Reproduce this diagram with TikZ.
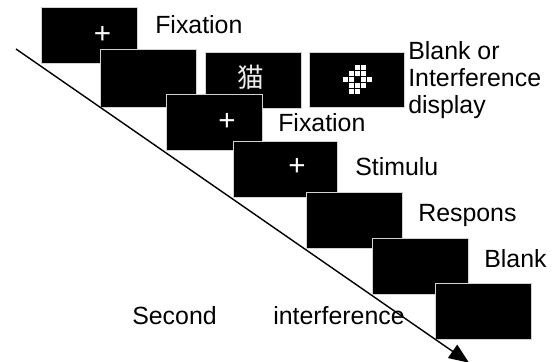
\documentclass[tikz,border=0pt]{standalone}
\usepackage{fontspec}
\setmainfont{Liberation Sans}
\newfontfamily\cjkfont{Noto Sans CJK SC}
\usetikzlibrary{arrows.meta}
\tikzset{
	screen/.style={draw=gray!35, line width=0.4pt, fill=black, minimum width=2.4cm, minimum height=1.4cm, inner sep=0pt},
	cross/.style={text=white, inner sep=0pt, font=\fontsize{21}{22}\selectfont},
	caption/.style={anchor=base west, inner sep=0pt, align=left, font=\fontsize{17.7}{18.85}\selectfont},
	timeline/.style={draw=black, line width=1pt, -{Triangle[length=0.5cm, width=0.4cm]}},
}

\begin{document}
\begin{tikzpicture}[x=0.025cm, y=-0.025cm]
	\useasboundingbox (0,0) rectangle (553,362);
	\clip (0,0) rectangle (553,362);
	% First fixation and blank
	\node [screen] (fixA) at (89,35) {};
	\node [cross] (crossA) at (102.5,34.5) {+};
	\node [screen, minimum height=1.45cm] (blankA) at (148.5,78) {};
	% Interference displays
	\node [screen] (word) at (253,80) {};
	\node [text=white!85!gray, inner sep=0pt, font=\cjkfont\fontsize{19}{19}\selectfont] (cat) at (251,77.5) {猫};
	\node [screen, minimum width=2.375cm, minimum height=1.375cm] (noise) at (356.5,79.5) {};
	\foreach \c/\r in {2/0,3/0,1/1,2/1,3/1,0/2,1/2,3/2,4/2,1/3,2/3,3/3,1/4,2/4}
		\fill [white] ({342.3+6*\c+0.4},{64.3+6*\r+0.4}) rectangle +(5.2,5.2);
	% Second fixation
	\node [screen] (fixB) at (214.5,122.5) {};
	\node [cross] (crossB) at (227,122) {+};
	% Stimulus
	\node [screen, minimum width=2.6cm] (stim) at (285,169.5) {};
	\node [cross] (crossC) at (297,167) {+};
	% Response, blank and second interference
	\node [screen] (resp) at (354.5,220.5) {};
	\node [screen] (blankB) at (420.5,266) {};
	\node [screen] (interB) at (483.5,311) {};
	% Labels
	\node [caption] (labA) at (155,33) {Fixation};
	\node [caption] (labB) at (408,113) {Blank or\\Interference\\display};
	\node [caption] (labC) at (278,131) {Fixation};
	\node [caption] (labD) at (355,175) {Stimulu};
	\node [caption] (labE) at (418,221) {Respons};
	\node [caption] (labF) at (484,267) {Blank};
	\node [caption] (labG) at (132,324) {Second};
	\node [caption] (labH) at (273,324) {interference};
	% Time axis
	\coordinate (start) at (16,49);
	\coordinate (finish) at (469,362.7);
	\draw [timeline] (start) -- (finish);
\end{tikzpicture}
\end{document}
